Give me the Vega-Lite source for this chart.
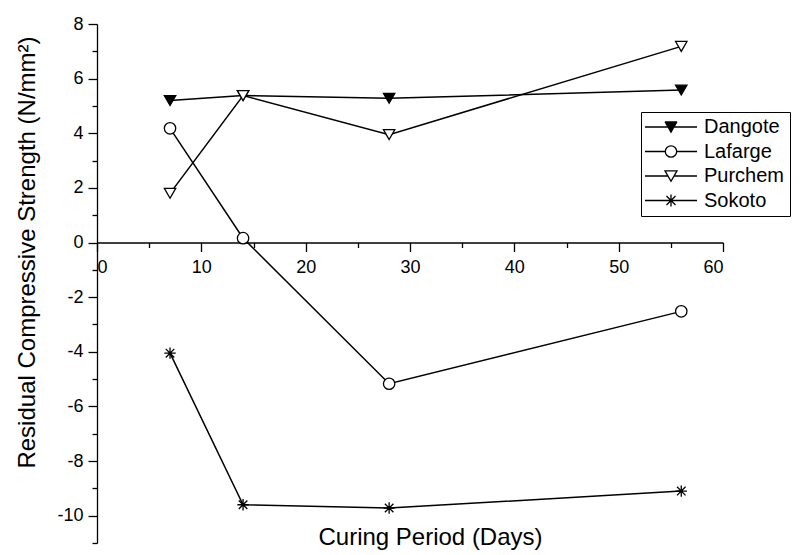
{
  "$schema": "https://vega.github.io/schema/vega-lite/v6.json",
  "width": 626,
  "height": 519,
  "autosize": "none",
  "padding": {"left": 97, "top": 24, "right": 77, "bottom": 12},
  "background": "white",
  "data": {
    "values": [
      {"series": "Dangote", "day": 7, "value": 5.2},
      {"series": "Dangote", "day": 14, "value": 5.38},
      {"series": "Dangote", "day": 28, "value": 5.28},
      {"series": "Dangote", "day": 56, "value": 5.58},
      {"series": "Lafarge", "day": 7, "value": 4.18},
      {"series": "Lafarge", "day": 14, "value": 0.16},
      {"series": "Lafarge", "day": 28, "value": -5.17},
      {"series": "Lafarge", "day": 56, "value": -2.52},
      {"series": "Purchem", "day": 7, "value": 1.8},
      {"series": "Purchem", "day": 14, "value": 5.38},
      {"series": "Purchem", "day": 28, "value": 3.95},
      {"series": "Purchem", "day": 56, "value": 7.18},
      {"series": "Sokoto", "day": 7, "value": -4.05},
      {"series": "Sokoto", "day": 14, "value": -9.6},
      {"series": "Sokoto", "day": 28, "value": -9.72},
      {"series": "Sokoto", "day": 56, "value": -9.1}
    ]
  },
  "layer": [
    {
      "mark": {"type": "line", "color": "black", "strokeWidth": 1.5},
      "encoding": {
        "x": {
          "field": "day", "type": "quantitative",
          "scale": {"domain": [0, 60], "nice": false, "zero": false},
          "axis": {
            "orient": "bottom", "offset": -300.5,
            "values": [0, 10, 20, 30, 40, 50, 60],
            "tickSize": 9, "tickWidth": 1.3, "domainWidth": 1.3,
            "labelPadding": 7, "labelFontSize": 18,
            "title": "Curing Period (Days)",
            "titleX": 333, "titleY": 295, "titleBaseline": "middle",
            "titleFontSize": 24
          }
        },
        "y": {
          "field": "value", "type": "quantitative",
          "scale": {"domain": [-11, 8], "nice": false, "zero": false},
          "axis": {
            "orient": "left",
            "values": [-10, -8, -6, -4, -2, 0, 2, 4, 6, 8],
            "labelExpr": "datum.value < 0 ? '-' + abs(datum.value) : '' + datum.value",
            "tickSize": 9, "tickWidth": 1.3, "domainWidth": 1.3,
            "labelPadding": 5, "labelFontSize": 18,
            "title": "Residual Compressive Strength (N/mm²)",
            "titleX": -70, "titleY": 228, "titleBaseline": "middle",
            "titleFontSize": 24
          }
        },
        "detail": {"field": "series", "type": "nominal"}
      }
    },
    {
      "mark": {"type": "point", "stroke": "black", "strokeWidth": 1.3, "opacity": 1, "size": 130},
      "encoding": {
        "x": {
          "field": "day", "type": "quantitative",
          "axis": {
            "orient": "bottom", "offset": -300.5,
            "values": [5, 15, 25, 35, 45, 55],
            "tickSize": 5, "tickWidth": 1.3, "domain": false, "labels": false, "title": null
          }
        },
        "y": {
          "field": "value", "type": "quantitative",
          "axis": {
            "orient": "left",
            "values": [-11, -9, -7, -5, -3, -1, 1, 3, 5, 7],
            "tickSize": 5, "tickWidth": 1.3, "domain": false, "labels": false, "title": null
          }
        },
        "fill": {
          "field": "series", "type": "nominal",
          "scale": {"domain": ["Dangote", "Lafarge", "Purchem", "Sokoto"], "range": ["black", "white", "white", "black"]},
          "legend": null
        },
        "shape": {
          "field": "series", "type": "nominal",
          "scale": {
            "domain": ["Dangote", "Lafarge", "Purchem", "Sokoto"],
            "range": ["triangle-down", "circle", "triangle-down", "M0,-1L0,1M-1,0L1,0M-0.75,-0.75L0.75,0.75M-0.75,0.75L0.75,-0.75"]
          },
          "legend": null
        }
      }
    },
    {
      "transform": [{"filter": "false"}],
      "mark": {"type": "point", "color": "black", "filled": false, "strokeWidth": 1.3, "opacity": 1, "size": 144},
      "encoding": {
        "x": {"field": "day", "type": "quantitative", "axis": null},
        "y": {"field": "value", "type": "quantitative", "axis": null},
        "shape": {
          "field": "series", "type": "nominal",
          "scale": {
            "domain": ["Dangote", "Lafarge", "Purchem", "Sokoto"],
            "range": [
              "M-4.33,0L4.33,0M-1,-0.87L1,-0.87M-0.885,-0.67L0.885,-0.67M-0.77,-0.47L0.77,-0.47M-0.655,-0.27L0.655,-0.27M-0.54,-0.07L0.54,-0.07M-0.425,0.13L0.425,0.13M-0.31,0.33L0.31,0.33M-0.195,0.53L0.195,0.53M-0.08,0.73L0.08,0.73M-1,-0.87L0,0.87L1,-0.87",
              "M-4.33,0L-0.95,0M0.95,0L4.33,0M-0.95,0A0.95,0.95,0,1,0,0.95,0A0.95,0.95,0,1,0,-0.95,0Z",
              "M-4.33,0L-0.5,0M0.5,0L4.33,0M-1,-0.87L1,-0.87L0,0.87Z",
              "M-4.33,0L4.33,0M0,-1L0,1M-0.75,-0.75L0.75,0.75M-0.75,0.75L0.75,-0.75"
            ]
          },
          "legend": {
            "orient": "none", "legendX": 544, "legendY": 88,
            "title": null, "strokeColor": "black", "padding": 5,
            "symbolSize": 144, "symbolStrokeWidth": 1.3, "symbolStrokeColor": "black",
            "symbolOpacity": 1,
            "symbolOffset": 15, "labelOffset": 23,
            "labelFontSize": 20, "labelColor": "black", "labelLimit": 0,
            "labelExpr": "datum.label + '      '",
            "rowPadding": 4.5
          }
        }
      }
    }
  ],
  "resolve": {"axis": {"x": "independent", "y": "independent"}, "scale": {"shape": "independent"}},
  "config": {
    "view": {"stroke": null},
    "font": "Liberation Sans",
    "axis": {
      "grid": false,
      "domainColor": "black", "tickColor": "black",
      "labelColor": "black", "titleColor": "black",
      "labelFont": "Liberation Sans", "titleFont": "Liberation Sans",
      "titleFontWeight": "normal"
    },
    "legend": {"labelFont": "Liberation Sans"}
  }
}
